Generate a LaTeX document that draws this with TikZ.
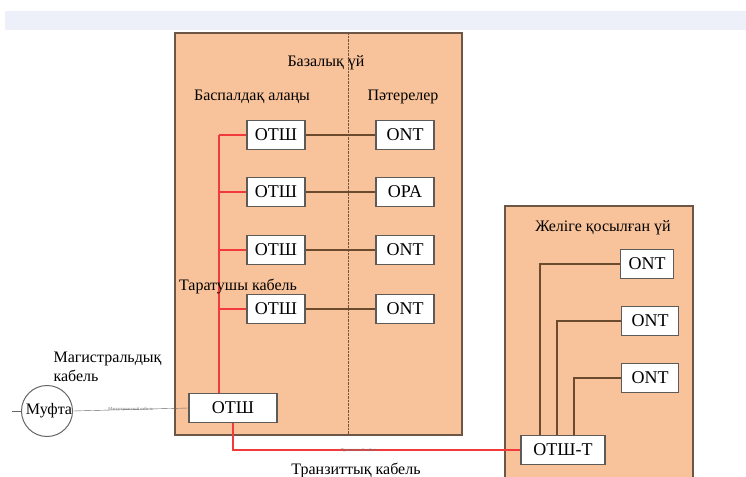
\documentclass[tikz,border=0pt]{standalone}
\usepackage{fontspec}
\setmainfont{Liberation Serif}
\usetikzlibrary{positioning,calc}
\definecolor{peach}{HTML}{F8C39A}
\definecolor{housebrown}{HTML}{6E5646}
\definecolor{linkbrown}{HTML}{6B4A2E}
\definecolor{cablered}{HTML}{F23A3A}
\definecolor{bandblue}{HTML}{EDF0F8}
\definecolor{boxgray}{HTML}{5E5A58}

\begin{document}
\begin{tikzpicture}[x=1pt,y=-1pt,
    box/.style={draw=boxgray, fill=white, line width=1.2pt, minimum width=58pt, minimum height=29pt,
        inner sep=1pt, font=\fontsize{18}{18}\selectfont},
    house/.style={draw=housebrown, fill=peach, line width=1.2pt},
    link/.style={draw=linkbrown, line width=1.2pt},
    redcable/.style={draw=cablered, line width=1.3pt},
    lbl/.style={font=\fontsize{16}{19}\selectfont, text=black},
    tinylbl/.style={font=\fontsize{4.5}{5}\selectfont, text=black!55, inner sep=0.5pt}]
    \useasboundingbox (0,0) rectangle (746,476);
    \fill[white] (0,0) rectangle (746,476);
    \fill[bandblue] (5,11) rectangle (746,30);

    % houses
    \draw[house] (175,33) rectangle (462,435);
    \draw[densely dotted, draw=housebrown] (348,33) -- (348,435);
    \draw[house] (505,206) rectangle (693,480);

    \node[lbl] (base) at (326,63) {Базалық үй};
    \node[lbl] (stair) at (252,97) {Баспалдақ алаңы};
    \node[lbl] (flats) at (403,97) {Пәтерелер};
    \node[lbl] (conn) at (603,228) {Желіге қосылған үй};

    % stairwell boxes and flat terminals
    \foreach \y/\t [count=\i] in {135/ONT,192/OPA,250/ONT,309/ONT}{
        \node[box] (s\i) at (276,\y) {ОТШ};
        \node[box] (a\i) at (405,\y) {\t};
        \draw[link] (s\i.east) -- (a\i.west);
    }

    \node[box, minimum width=88pt] (b) at (233,408) {ОТШ};
    \coordinate (rise) at ($(b.north)+(-14,0)$);
    \draw[redcable] (s1.west -| rise) -- (rise);
    \foreach \i in {1,...,4}
        \draw[redcable] (s\i.west -| rise) -- (s\i.west);
    \node[lbl] (distr) at (238,286) {Таратушы кабель};

    % trunk
    \node[circle, draw=black!60, line width=1pt, minimum size=51pt, inner sep=0pt,
        label={[lbl, xshift=2pt]center:Муфта}] (m) at (47,411) {};
    \coordinate (tail) at (12,411);
    \draw[draw=black!60] (tail) -- (m.west);
    \draw[draw=black!60] (m.east) -- node[tinylbl]{Магистральный кабель} (b.west);
    \node[lbl, align=left, anchor=north west] (trunk) at (50,348) {Магистральдық\\кабель};

    % connected house
    \node[box, minimum width=84pt] (t) at (563,450) {ОТШ-Т};
    \node[box, minimum width=53pt] (r1) at (647,264) {ONT};
    \node[box, minimum width=57pt] (r2) at (650,321) {ONT};
    \node[box, minimum width=57pt] (r3) at (650,378) {ONT};
    \draw[link] ($(t.north)+(-23,0)$) |- (r1.west);
    \draw[link] ($(t.north)+(-6,0)$) |- (r2.west);
    \draw[link] ($(t.north)+(11,0)$) |- (r3.west);

    % transit
    \draw[redcable] (b.south) |- node[tinylbl, pos=0.72]{Транзитный кабель} (t.west);
    \node[lbl] (transit) at (356,470) {Транзиттық кабель};
\end{tikzpicture}
\end{document}
